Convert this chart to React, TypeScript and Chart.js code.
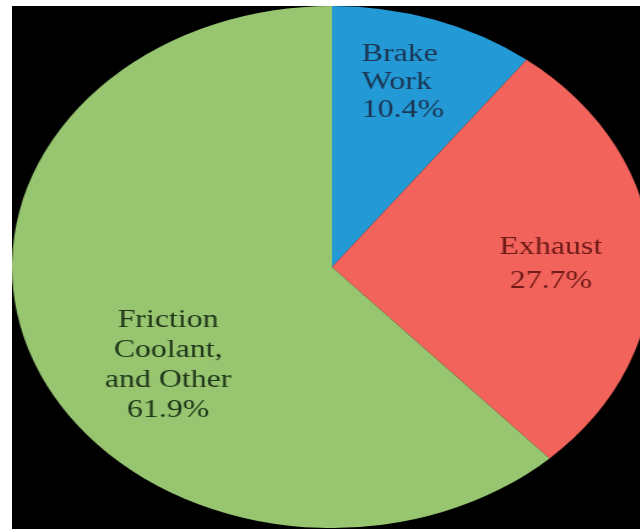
import React, { useEffect, useRef } from "react";
import { Chart, registerables } from "chart.js";

Chart.register(...registerables);

// ---- data ----
const categories = ["Brake Work", "Exhaust", "Friction Coolant, and Other"];
const shares = [10.4, 27.7, 61.9];
const nameLines = [["Brake", "Work"], ["Exhaust"], ["Friction", "Coolant,", "and Other"]];
const sliceColors = ["#2399d6", "#f2645b", "#98c670"];
const textColors = ["#1b3552", "#6e1a16", "#1f3519"];

// label placement relative to each slice (fraction of radius, angle shift in degrees)
const labelPlacement = [
  { r: 0.741, dAngle: -1.3, lineH: 28, align: "left" },
  { r: 0.684, dAngle: 1.9, lineH: 34, align: "center" },
  { r: 0.635, dAngle: -14.8, lineH: 30, align: "center" },
];

const FONT = "26px 'Liberation Serif', 'Times New Roman', serif";
const PIE = 522; // canvas size (px)
const STRETCH = 320 / 261; // horizontal stretch of the photographed pie

const labelPlugin = {
  id: "sliceLabels",
  afterDatasetsDraw(chart: any) {
    const meta = chart.getDatasetMeta(0);
    const ctx = chart.ctx as CanvasRenderingContext2D;
    ctx.save();
    ctx.font = FONT;
    ctx.textBaseline = "middle";
    meta.data.forEach((arc: any, i: number) => {
      const p = labelPlacement[i];
      const { x, y, startAngle, endAngle, outerRadius } = arc.getProps(
        ["x", "y", "startAngle", "endAngle", "outerRadius"],
        true
      );
      const mid = (startAngle + endAngle) / 2 + (p.dAngle * Math.PI) / 180;
      const r = outerRadius * p.r;
      const lx = x + Math.cos(mid) * r;
      const ly = y + Math.sin(mid) * r;
      const lines = [...nameLines[i], `${shares[i]}%`];
      const maxW = Math.max(...lines.map((l) => ctx.measureText(l).width));
      const top = ly - ((lines.length - 1) * p.lineH) / 2;
      ctx.fillStyle = textColors[i];
      lines.forEach((line, k) => {
        if (p.align === "left") {
          ctx.textAlign = "left";
          ctx.fillText(line, lx - maxW / 2, top + k * p.lineH);
        } else {
          ctx.textAlign = "center";
          ctx.fillText(line, lx, top + k * p.lineH);
        }
      });
    });
    ctx.restore();
  },
};

export default function App() {
  const ref = useRef<HTMLCanvasElement | null>(null);

  useEffect(() => {
    document.body.style.margin = "0";
    const canvas = ref.current!;
    const chart = new Chart(canvas, {
      type: "pie",
      data: {
        labels: categories,
        datasets: [
          {
            data: shares,
            backgroundColor: sliceColors,
            borderWidth: 0,
          },
        ],
      },
      options: {
        responsive: false,
        animation: false,
        layout: { padding: 0 },
        plugins: {
          legend: { display: false },
          tooltip: { enabled: false },
        },
      },
      plugins: [labelPlugin],
    });
    return () => chart.destroy();
  }, []);

  return (
    <div
      style={{
        position: "fixed",
        left: 0,
        top: 0,
        width: 640,
        height: 529,
        background: "#ffffff",
        overflow: "hidden",
      }}
    >
      <div
        style={{
          position: "absolute",
          left: 12,
          top: 6,
          width: 628,
          height: 523,
          background: "#000000",
        }}
      />
      <div
        style={{
          position: "absolute",
          left: 332 - PIE / 2,
          top: 266.5 - PIE / 2,
          width: PIE,
          height: PIE,
          transform: `scaleX(${STRETCH})`,
          transformOrigin: "50% 50%",
        }}
      >
        <canvas ref={ref} width={PIE} height={PIE} />
      </div>
    </div>
  );
}
